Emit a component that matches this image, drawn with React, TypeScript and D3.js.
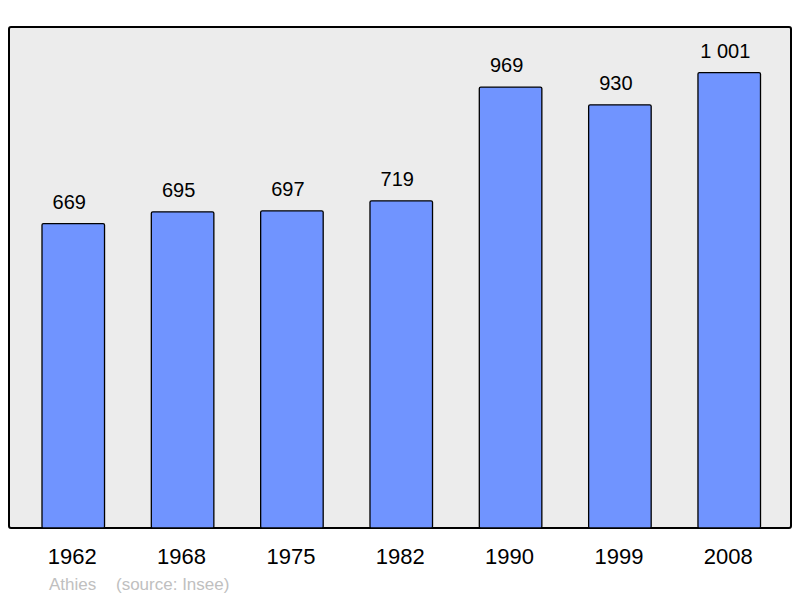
import React from "react";
import * as d3 from "d3";

const years = ["1962", "1968", "1975", "1982", "1990", "1999", "2008"];
const population = [669, 695, 697, 719, 969, 930, 1001];
const valueLabels = ["669", "695", "697", "719", "969", "930", "1 001"];
const townName = "Athies";
const sourceNote = "(source: Insee)";

const W = 800;
const H = 598;
const frame = { x: 9, y: 27, w: 782, h: 501 };

export default function App() {
  const x = d3
    .scaleBand<string>()
    .domain(years)
    .range([18.6, 783.9])
    .paddingInner(0.428)
    .paddingOuter(0.214);

  const y = d3
    .scaleLinear()
    .domain([0, d3.max(population)! * 1.1])
    .range([frame.y + frame.h, frame.y]);

  const font = "'Liberation Sans', Arial, sans-serif";

  return (
    <svg
      width={W}
      height={H}
      style={{ position: "absolute", left: 0, top: 0 }}
      fontFamily={font}
    >
      <rect x={0} y={0} width={W} height={H} fill="#fff" />
      <rect
        x={frame.x}
        y={frame.y}
        width={frame.w}
        height={frame.h}
        rx={2}
        fill="#ececec"
        stroke="#000"
        strokeWidth={2}
      />
      {years.map((yr, i) => {
        const bx = x(yr)!;
        const by = y(population[i]);
        return (
          <g key={yr}>
            <rect
              x={bx}
              y={by}
              width={x.bandwidth()}
              height={y(0) - by}
              rx={1.5}
              fill="#7094ff"
              stroke="#000"
              strokeWidth={1.3}
            />
            <text
              x={bx + x.bandwidth() / 2 - 4}
              y={by - 15}
              textAnchor="middle"
              fontSize={20}
              fill="#000"
            >
              {valueLabels[i]}
            </text>
            <text
              x={bx + x.bandwidth() / 2 - 1}
              y={564}
              textAnchor="middle"
              fontSize={22}
              fill="#000"
            >
              {yr}
            </text>
          </g>
        );
      })}
      <text x={49} y={590} fontSize={17} fill="#c0c0c0">
        {townName}
      </text>
      <text x={116} y={590} fontSize={17} fill="#c0c0c0">
        {sourceNote}
      </text>
    </svg>
  );
}
